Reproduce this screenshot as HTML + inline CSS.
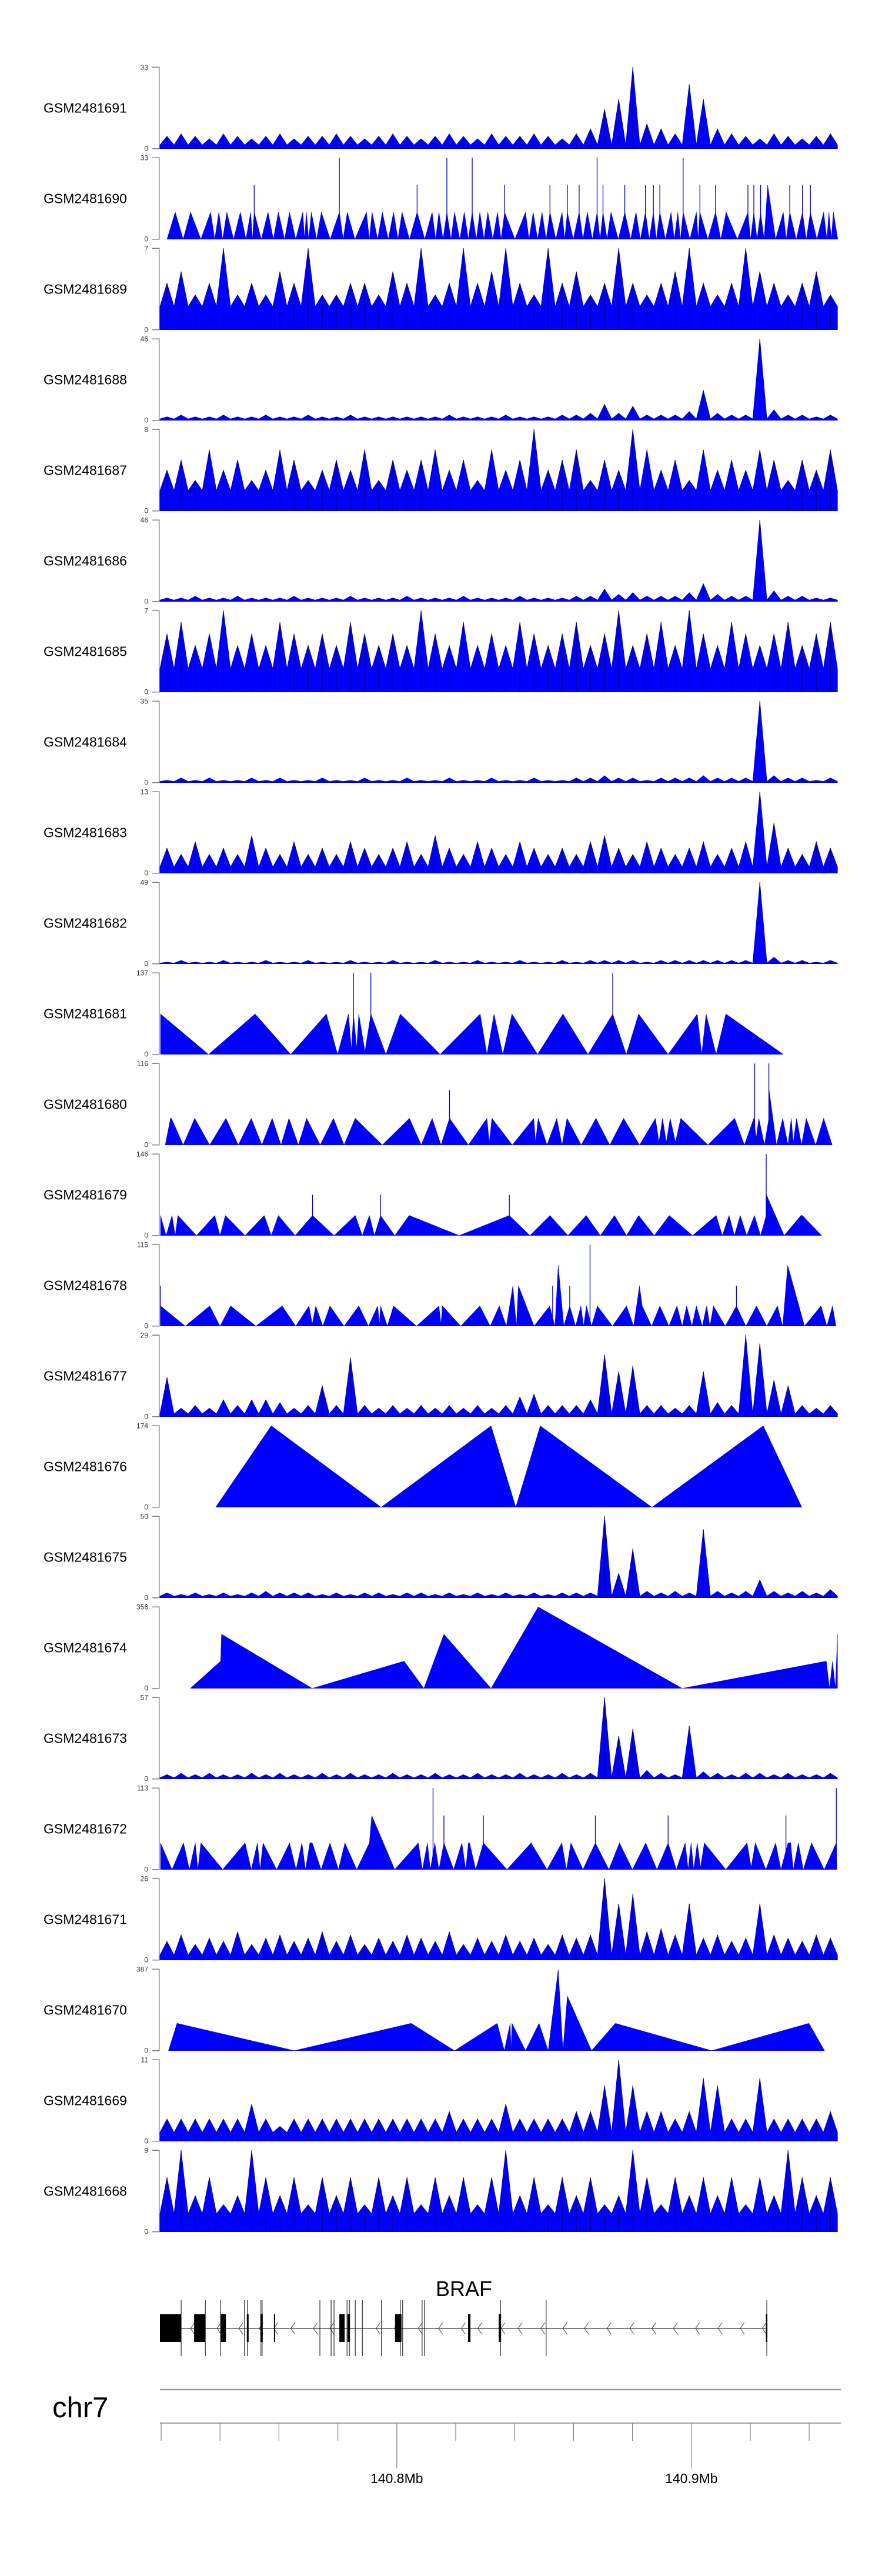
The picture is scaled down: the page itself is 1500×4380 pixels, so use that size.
<!DOCTYPE html>
<html><head><meta charset="utf-8"><title>BRAF coverage tracks</title>
<style>
html,body{margin:0;padding:0;background:#fff;}
svg{display:block;font-family:"Liberation Sans",Arial,sans-serif;}
</style></head>
<body>
<svg id="chart" width="1500" height="4380" viewBox="0 0 1500 4380" xmlns="http://www.w3.org/2000/svg">
<rect width="1500" height="4380" fill="#fff"/>
<g id="tracks"></g>
<g id="gene"></g>
<g id="axis"></g>
</svg>
<script>
// ---- track metadata ----
const trackNames = ['GSM2481691','GSM2481690','GSM2481689','GSM2481688','GSM2481687','GSM2481686','GSM2481685','GSM2481684','GSM2481683','GSM2481682','GSM2481681','GSM2481680','GSM2481679','GSM2481678','GSM2481677','GSM2481676','GSM2481675','GSM2481674','GSM2481673','GSM2481672','GSM2481671','GSM2481670','GSM2481669','GSM2481668'];
const trackMax = [33,33,7,46,8,46,7,35,13,49,137,116,146,115,29,174,50,356,57,113,26,387,11,9];

// ---- binned (noisy) tracks: 48 bins across region ----
const n691 = [5,6,5,4,6,5,4,5,6,4,5,5,6,5,4,5,6,5,4,5,6,5,4,6,5,5,6,5,4,6,8,16,20,33,10,8,6,26,20,8,6,5,4,6,5,4,5,6];
const n689 = [4,5,3,4,7,3,4,3,5,4,7,3,3,4,4,3,5,4,7,3,4,7,4,5,7,4,3,7,4,5,3,4,7,4,3,4,5,7,4,3,4,7,5,4,3,4,5,3];
const n688 = [2,3,2,2,3,2,2,3,2,2,3,2,2,3,2,2,2,2,2,2,3,2,2,2,3,2,2,2,3,3,4,9,4,8,3,3,3,5,17,4,3,3,46,6,3,3,2,3];
const n687 = [4,5,3,6,4,5,3,4,6,5,3,4,5,4,6,3,5,4,5,6,4,5,3,6,4,5,8,4,5,6,3,5,4,8,6,4,5,3,6,4,5,4,6,5,3,5,4,6];
const n686 = [2,2,3,2,2,3,2,2,2,3,2,2,2,3,2,2,2,3,2,2,2,3,2,2,2,3,2,2,2,3,3,7,4,5,3,3,3,5,10,4,3,3,46,6,3,3,2,2];
const n685 = [5,6,4,5,7,4,5,4,6,5,4,5,4,6,5,4,5,4,7,5,4,6,4,5,4,6,5,4,5,6,4,5,7,4,5,6,4,7,5,4,6,5,4,5,6,4,5,6];
const n684 = [1,2,1,2,1,1,2,1,2,1,1,2,1,1,2,1,1,2,1,1,2,1,1,2,1,1,2,1,1,2,2,3,2,2,1,2,2,2,3,2,2,2,35,3,2,2,1,2];
const n683 = [4,3,5,3,4,3,6,4,3,5,3,4,3,5,4,3,4,5,3,6,4,3,5,4,3,5,4,3,4,3,5,6,4,3,5,4,3,4,5,3,4,5,13,8,4,3,5,4];
const n682 = [1,2,1,1,2,1,1,2,1,1,2,1,1,2,1,1,2,1,1,2,1,1,2,1,1,2,1,1,2,1,2,2,2,2,1,2,2,2,2,2,2,2,49,4,2,2,1,2];
const n677 = [14,3,4,3,6,4,6,6,5,3,4,11,4,21,4,3,4,3,4,3,4,3,4,3,4,7,8,4,4,4,6,22,16,18,4,4,3,4,16,5,4,29,26,13,11,4,3,4];
const n675 = [3,2,3,2,3,2,3,4,3,3,3,2,3,2,3,3,2,3,3,2,3,2,3,2,3,2,3,2,3,3,3,50,15,30,4,3,4,3,42,4,3,4,11,4,3,4,3,5];
const n673 = [3,4,3,4,3,3,4,3,4,3,3,4,3,4,3,3,4,3,3,4,3,3,4,3,3,4,3,3,4,3,4,57,30,35,6,4,3,37,5,4,3,4,4,3,4,3,3,4];
const n671 = [6,8,5,7,6,9,5,7,8,6,7,9,6,8,5,7,6,8,7,6,9,5,7,6,8,6,7,5,8,7,8,26,18,21,9,10,8,18,7,8,6,7,18,8,7,6,8,7];
const n669 = [3,3,3,3,3,3,5,3,2,3,3,3,3,3,3,3,3,3,3,3,4,3,3,3,5,3,3,3,3,4,4,7.5,11,7.5,4,4,3,4,8.5,7.5,3,3,8.5,3,3,3,3,4];
const n668 = [6,9,4,6,3,4,9,6,4,6,3,6,4,6,3,6,4,6,3,6,4,6,3,6,9,4,6,3,6,4,6,3,4,9,6,3,6,4,6,4,6,3,6,4,9,6,4,6];
// background level of each binned track
const floors691 = 1.5, floors689 = 2.0, floors688 = 0.8, floors687 = 2.0, floors686 = 0.8, floors685 = 2.0, floors684 = 0.5, floors683 = 1.0, floors682 = 0.4, floors677 = 1, floors675 = 1, floors673 = 0.8, floors671 = 1.6, floors669 = 1.2, floors668 = 2.0;

// ---- piecewise (triangle) tracks: [position kb, value] ----
const t690 = [[2.4,0],[5.2,11],[7.9,0],[10.4,11],[13.9,0],[17.2,11],[18.6,0],[20.0,11],[21.3,0],[22.7,11],[25.0,0],[27.3,11],[29.2,0],[30.8,11],[31.4,0],[32.0,11],[34.4,0],[36.7,11],[38.5,0],[40.2,11],[42.3,0],[44.0,11],[46.1,0],[48.5,11],[49.1,0],[49.7,11],[50.5,0],[51.4,11],[53.2,0],[54.8,11],[57.8,0],[60.9,11],[62.2,0],[63.6,11],[66.2,0],[70.1,11],[71.1,0],[72.0,11],[73.9,0],[75.5,11],[77.5,0],[79.3,11],[80.8,0],[82.2,11],[84.7,0],[87.3,11],[89.9,0],[92.4,11],[93.6,0],[94.7,11],[96.1,0],[97.4,11],[98.8,0],[100.0,11],[101.8,0],[103.3,11],[104.7,0],[106.0,11],[107.4,0],[108.6,11],[110.0,0],[111.3,11],[113.0,0],[114.6,11],[115.8,0],[117.0,11],[120.5,0],[124.1,11],[125.3,0],[126.7,11],[128.2,0],[129.7,11],[131.1,0],[132.4,11],[134.4,0],[136.5,11],[137.4,0],[138.3,11],[140.3,0],[142.3,11],[143.6,0],[145.1,11],[146.8,0],[148.4,11],[149.4,0],[150.4,11],[151.8,0],[153.1,11],[155.6,0],[157.8,11],[159.8,0],[161.6,11],[163.1,0],[164.8,11],[166.1,0],[167.5,11],[168.5,0],[169.7,11],[171.6,0],[173.5,11],[174.6,0],[175.8,11],[176.7,0],[177.6,11],[179.9,0],[182.1,11],[182.7,0],[183.3,11],[186.0,0],[188.6,11],[190.4,0],[192.2,11],[196.0,0],[199.6,11],[200.5,0],[201.6,11],[202.7,0],[203.9,11],[205.1,0],[206.3,22],[209.0,0],[211.6,11],[212.6,0],[213.8,11],[216.0,0],[218.1,11],[219.4,0],[220.8,11],[223.0,0],[225.3,11],[226.4,0],[227.1,11],[227.9,0],[228.6,11],[230.1,0]];
const s690 = [[32.0,22],[60.9,33],[87.3,22],[97.4,33],[106.0,33],[117.0,22],[132.4,22],[138.3,22],[142.3,22],[148.4,33],[150.4,22],[157.8,22],[164.8,22],[167.5,22],[169.7,22],[177.6,33],[183.3,22],[188.6,22],[199.6,22],[201.6,22],[203.9,22],[213.8,22],[218.1,22],[220.8,22]];

const t681 = [[0.2,68],[16.5,0],[32.3,68],[44.4,0],[56.5,68],[60.3,0],[64.0,68],[65.0,8],[65.7,68],[66.8,10],[67.5,68],[69.6,5],[71.6,68],[76.7,0],[81.6,68],[95.1,0],[108.7,68],[111.0,0],[113.4,68],[116.4,0],[119.5,68],[128.2,0],[136.8,68],[145.3,0],[153.7,68],[158.3,0],[162.5,68],[172.5,0],[182.4,68],[183.9,0],[185.4,68],[188.8,0],[192.1,68],[211.6,0]];
const s681 = [[65.7,137],[71.6,137],[153.7,137]];

const t680 = [[1.8,0],[3.6,38],[3.9,38],[7.9,0],[11.8,38],[16.9,0],[22.4,38],[26.6,0],[31.0,38],[34.6,0],[38.1,38],[41.1,0],[43.8,38],[47.0,0],[49.8,38],[54.4,0],[58.9,38],[62.5,0],[66.3,38],[75.5,0],[84.7,38],[88.7,0],[92.4,38],[95.4,0],[98.3,38],[104.7,0],[111.0,38],[111.8,4],[112.7,38],[119.6,0],[126.9,38],[127.5,4],[128.4,38],[131.4,0],[134.7,38],[136.5,0],[138.2,38],[143.0,0],[148.0,38],[152.7,0],[157.4,38],[162.8,0],[168.2,38],[169.4,4],[170.6,38],[171.9,4],[173.2,38],[175.0,4],[176.8,38],[186.0,0],[195.1,38],[198.4,0],[201.6,38],[202.4,10],[203.3,38],[205.2,0],[206.7,38],[206.8,78],[209.3,0],[211.4,38],[213.2,0],[214.3,38],[215.0,4],[216.1,38],[217.8,0],[219.4,38],[222.6,0],[225.3,38],[228.2,0]];
const s680 = [[98.3,78],[201.9,116],[206.7,116]];

const t679 = [[0.2,36],[2.1,0],[4.1,36],[5.2,0],[6.1,36],[12.4,0],[18.6,36],[20.4,0],[22.2,36],[28.9,0],[35.4,36],[37.8,0],[40.2,36],[45.9,0],[51.8,36],[59.1,0],[66.3,36],[68.7,0],[71.1,36],[72.8,0],[74.9,36],[79.7,0],[84.6,36],[101.6,0],[118.6,36],[125.6,0],[132.4,36],[138.5,0],[144.7,36],[149.5,0],[154.3,36],[158.4,0],[162.5,36],[167.8,0],[172.9,36],[180.8,0],[188.8,36],[190.9,0],[193.2,36],[195.0,0],[197.0,36],[199.2,0],[201.8,36],[203.9,0],[205.8,36],[205.9,73],[211.9,0],[217.6,36],[218.1,36],[224.6,0]];
const s679 = [[51.8,73],[74.9,73],[118.6,73],[205.8,146]];

const t678 = [[0.2,28.5],[8.6,0],[16.9,28.5],[20.4,0],[24.0,28.5],[32.6,0],[41.5,28.5],[46.1,0],[50.6,28.5],[51.7,3],[52.9,28.5],[55.3,0],[57.7,28.5],[62.5,0],[67.5,28.5],[70.8,0],[73.9,28.5],[74.5,3],[74.9,28.5],[77.2,0],[79.3,28.5],[87.1,0],[94.7,28.5],[95.4,3],[95.9,28.5],[102.1,0],[108.6,28.5],[112.1,0],[115.2,28.5],[117.6,0],[119.8,57],[121.0,0],[121.7,57],[127.0,0],[132.3,28.5],[134.1,0],[135.2,86],[137.1,0],[139.1,28.5],[141.1,0],[142.9,28.5],[143.8,0],[144.8,28.5],[146.5,0],[148.5,28.5],[153.6,0],[158.4,28.5],[160.8,0],[162.8,57],[163.7,28.5],[166.9,0],[169.7,28.5],[172.8,0],[175.5,28.5],[177.3,0],[178.8,28.5],[180.6,0],[182.1,28.5],[184.1,0],[185.6,28.5],[186.7,0],[187.9,28.5],[191.9,0],[195.7,28.5],[198.9,0],[202.5,28.5],[206.0,0],[209.6,28.5],[211.4,0],[213.1,86],[218.8,0],[224.4,28.5],[226.4,0],[228.3,28.5],[229.5,0]];
const s678 = [[0.2,57],[133.3,57],[139.1,57],[146.0,115],[195.7,57]];

const t676 = [[18.9,0],[37.8,174],[75.1,0],[112.4,174],[120.8,0],[129.1,174],[167.0,0],[204.8,174],[217.9,0]];
const s676 = [];

const t674 = [[10.3,0],[20.6,119],[20.9,237],[51.7,0],[82.9,119],[89.6,0],[96.4,237],[112.4,0],[128.4,356],[177.3,0],[226.2,119],[227.3,0],[228.3,119],[229.3,0],[230.0,237],[230.0,0]];
const s674 = [];

const t672 = [[0.2,37],[4.1,0],[8.0,37],[10.0,0],[12.0,37],[12.9,0],[13.9,37],[21.3,0],[28.9,37],[31.0,0],[33.1,37],[34.0,0],[35.0,37],[39.6,0],[44.0,37],[46.2,0],[48.2,37],[49.4,0],[50.9,37],[51.7,37],[54.7,0],[57.7,37],[60.6,0],[62.8,37],[66.8,0],[71.1,37],[71.9,75],[79.7,0],[87.7,37],[89.1,0],[90.8,37],[91.8,0],[93.3,37],[94.7,0],[96.4,37],[99.7,0],[102.5,37],[103.8,0],[104.7,37],[105.1,37],[107.2,0],[109.8,37],[117.8,0],[126.0,37],[131.4,0],[136.4,37],[138.0,0],[139.5,37],[143.6,0],[147.8,37],[152.4,0],[156.0,37],[160.4,0],[164.9,37],[168.7,0],[172.5,37],[175.3,0],[178.3,37],[179.3,0],[180.3,37],[181.2,0],[182.4,37],[183.5,3],[184.8,37],[192.1,0],[199.3,37],[200.7,3],[202.1,37],[205.7,0],[209.0,37],[210.8,0],[213.2,37],[214.1,37],[215.0,0],[216.7,37],[218.4,0],[221.2,37],[225.5,0],[229.6,37],[229.8,0]];
const s672 = [[92.7,113],[96.4,75],[109.8,75],[147.8,75],[172.5,75],[212.5,75],[229.6,113]];

const t670 = [[2.9,0],[5.8,130],[45.6,0],[85.3,130],[100.0,0],[114.5,130],[116.9,0],[118.9,130],[119.2,5],[119.5,130],[124.1,0],[128.7,130],[131.8,0],[135.2,387],[136.8,0],[138.3,260],[146.5,0],[154.6,130],[187.3,0],[220.3,130],[225.6,0]];
const s670 = [];

// ---- gene model (kb from region start) ----
const exons = [[0,7.2],[11.6,15.4],[20.6,22.4],[29.5,30.1],[34.1,34.9],[38.7,39.1],[60.9,62.7],[63.7,64.5],[79.8,82.0],[104.6,105.4],[115.0,115.8],[205.7,206.2]];
const tallLines = [7.2,15.4,20.6,28.7,29.7,34.3,34.7,54.3,58.1,59.1,63.5,64.3,66.3,68.7,75.2,81.6,82.4,89.0,89.8,115.6,131.1,206.0];
const chevrons = [11.0,20.0,27.4,34.3,39.2,45.0,52.7,58.3,74.0,80.2,88.3,95.2,102.9,108.5,116.4,122.2,129.9,137.4,144.7,152.4,160.1,167.6,174.9,182.4,190.1,197.6,205.1];
const geneSpan = [0, 206.2];

// ---- genome axis ----
const axisTicksMb = [140.72,140.74,140.76,140.78,140.80,140.82,140.84,140.86,140.88,140.90,140.92,140.94];
const axisLabels = [['140.8Mb',140.80],['140.9Mb',140.90]];
const regionStartMb = 140.7196;

// ---- scales ----
const X0 = 272, PXKB = 5.01, REGION_KB = 230;
function xs(kb){ return X0 + kb*PXKB; }
const TOP0 = 114.3, PITCH = 154, H = 138.4;
function trackTop(i){ return TOP0 + PITCH*i; }
function ys(i, v){ return trackTop(i) + H - (v/trackMax[i])*H; }

const SVGNS = 'http://www.w3.org/2000/svg';
function mk(tag, attrs, parent){
  const e = document.createElementNS(SVGNS, tag);
  for (const k in attrs) e.setAttribute(k, attrs[k]);
  parent.appendChild(e);
  return e;
}

const binned = {
  'GSM2481691':[n691,floors691],'GSM2481689':[n689,floors689],'GSM2481688':[n688,floors688],
  'GSM2481687':[n687,floors687],'GSM2481686':[n686,floors686],'GSM2481685':[n685,floors685],
  'GSM2481684':[n684,floors684],'GSM2481683':[n683,floors683],'GSM2481682':[n682,floors682],
  'GSM2481677':[n677,floors677],'GSM2481675':[n675,floors675],'GSM2481673':[n673,floors673],
  'GSM2481671':[n671,floors671],'GSM2481669':[n669,floors669],'GSM2481668':[n668,floors668]
};
const piecewise = {
  'GSM2481690':[t690,s690],'GSM2481681':[t681,s681],'GSM2481680':[t680,s680],'GSM2481679':[t679,s679],
  'GSM2481678':[t678,s678],'GSM2481676':[t676,s676],'GSM2481674':[t674,s674],'GSM2481672':[t672,s672],
  'GSM2481670':[t670,s670]
};

const gTracks = document.getElementById('tracks');
trackNames.forEach((name, i) => {
  const g = mk('g', {}, gTracks);
  
  
  const top = trackTop(i), bot = top + H, mid = top + H/2;

  const lab = mk('text', {x:74, y:mid+8, 'font-size':23, fill:'#000'}, g);
  
  
  lab.textContent = name;

  const ax = mk('path', {d:`M259 ${top} H270.7 V${bot} H259`, fill:'none', stroke:'#808080', 'stroke-width':1.5}, g);
  
  
  const tMax = mk('text', {x:252, y:top+4, 'font-size':12, 'text-anchor':'end', fill:'#333'}, g);
  
  
  tMax.textContent = trackMax[i];
  const tMin = mk('text', {x:252, y:bot+4, 'font-size':12, 'text-anchor':'end', fill:'#333'}, g);
  
  
  tMin.textContent = '0';

  if (binned[name]) {
    const vals = binned[name][0], fl = binned[name][1];
    const bw = REGION_KB / vals.length;
    let d = `M${xs(0)} ${ys(i,0)} L${xs(0)} ${ys(i,fl)}`;
    let lines = '';
    vals.forEach((v, j) => {
      const c = (j+0.5)*bw;
      d += ` L${xs(c-bw*0.5)} ${ys(i,fl)} L${xs(c)} ${ys(i,v)} L${xs(c+bw*0.5)} ${ys(i,fl)}`;
      lines += `M${xs(c)} ${ys(i,0)} V${ys(i,v)} `;
    });
    d += ` L${xs(REGION_KB)} ${ys(i,fl)} L${xs(REGION_KB)} ${ys(i,0)} Z`;
    const area = mk('path', {d:d, fill:'#0000ff', stroke:'#0000b0', 'stroke-width':0.7}, g);
    
    
    const sp = mk('path', {d:lines, stroke:'#00008b', 'stroke-width':1.2, fill:'none'}, g);
    
    
  } else if (piecewise[name]) {
    const pts = piecewise[name][0], spikes = piecewise[name][1];
    let d = `M${xs(pts[0][0])} ${ys(i,0)}`;
    pts.forEach(p => { d += ` L${xs(p[0])} ${ys(i,p[1])}`; });
    d += ` L${xs(pts[pts.length-1][0])} ${ys(i,0)} Z`;
    const area = mk('path', {d:d, fill:'#0000ff', stroke:'#0000ff', 'stroke-width':0.5}, g);
    
    
    let sd = '';
    spikes.forEach(s => { sd += `M${xs(s[0])} ${ys(i,0)} V${ys(i,s[1])} `; });
    if (sd) {
      const sp = mk('path', {d:sd, stroke:'#0000cc', 'stroke-width':1.3, fill:'none'}, g);
      
      
    }
  }
});

// ---- gene ----
const gGene = document.getElementById('gene');
const GY = 3959;
const gl = mk('text', {x:789, y:3904, 'font-size':36, 'text-anchor':'middle', fill:'#000'}, gGene);


gl.textContent = 'BRAF';
const backbone = mk('line', {x1:xs(geneSpan[0]), x2:xs(geneSpan[1]), y1:GY, y2:GY, stroke:'#000', 'stroke-width':1}, gGene);


let chev = '';
chevrons.forEach(c => { const x = xs(c); chev += `M${x+4} ${GY-10} L${x-3} ${GY} L${x+4} ${GY+10} `; });
const ch = mk('path', {d:chev, fill:'none', stroke:'#444', 'stroke-width':1}, gGene);


let tl = '';
tallLines.forEach(k => { tl += `M${xs(k)} 3911 V4006 `; });
const tlp = mk('path', {d:tl, stroke:'#000', 'stroke-width':1, fill:'none'}, gGene);


exons.forEach(e => {
  const r = mk('rect', {x:xs(e[0]), y:3935, width:Math.max(1.5, xs(e[1])-xs(e[0])), height:47, fill:'#000'}, gGene);
  
  
});

// ---- axis ----
const gAx = document.getElementById('axis');
const sep = mk('line', {x1:272, x2:1430, y1:4063, y2:4063, stroke:'#999', 'stroke-width':2.5}, gAx);


const chr = mk('text', {x:89, y:4110, 'font-size':49, fill:'#000'}, gAx);


chr.textContent = 'chr7';
const axl = mk('line', {x1:272, x2:1430, y1:4120, y2:4120, stroke:'#808080', 'stroke-width':1.5}, gAx);


function xMb(mb){ return xs((mb - regionStartMb)*1000); }
axisTicksMb.forEach(mb => {
  const t = mk('line', {x1:xMb(mb), x2:xMb(mb), y1:4120, y2:4150, stroke:'#808080', 'stroke-width':1.2}, gAx);
  
  
});
axisLabels.forEach(l => {
  const t = mk('line', {x1:xMb(l[1]), x2:xMb(l[1]), y1:4150, y2:4197, stroke:'#808080', 'stroke-width':1.2}, gAx);
  
  
  const tx = mk('text', {x:xMb(l[1]), y:4222, 'font-size':23, 'text-anchor':'middle', fill:'#000'}, gAx);
  
  
  tx.textContent = l[0];
});
</script>
</body></html>
